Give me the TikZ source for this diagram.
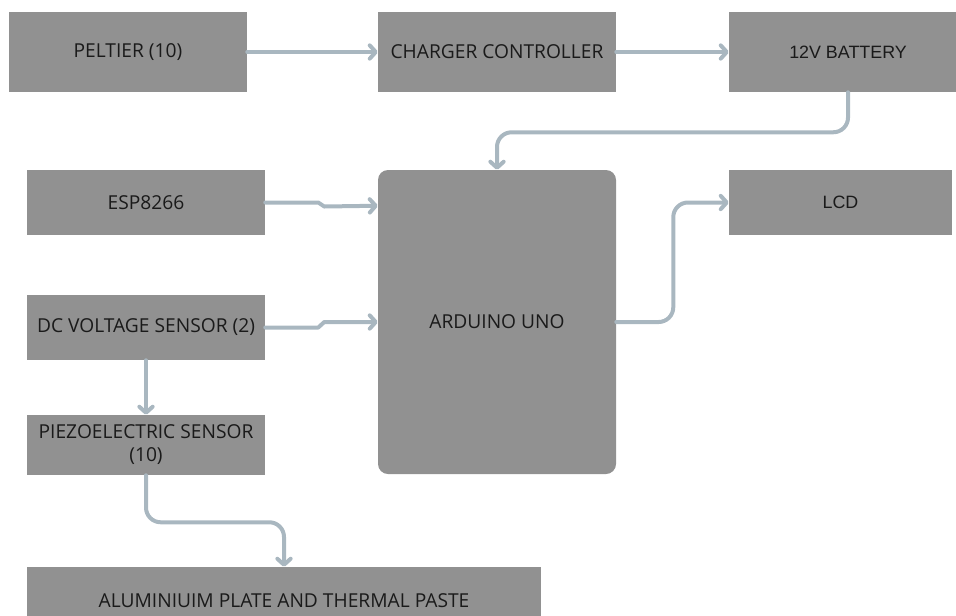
\documentclass[tikz,border=0pt]{standalone}
\usepackage{fontspec}
\setsansfont{Open Sans}
\newfontfamily\arialfont{Liberation Sans}
\usetikzlibrary{arrows.meta,calc}
\definecolor{boxgray}{HTML}{919191}
\definecolor{conncol}{HTML}{A9B7C0}
\definecolor{txtcol}{HTML}{1A1A1A}
\tikzset{
  blk/.style={fill=boxgray, draw=none, inner sep=0pt, text=txtcol, align=center,
    font=\sffamily\fontsize{14.4pt}{17.3pt}\selectfont},
  arialblk/.style={blk, font=\arialfont\fontsize{13.4pt}{16pt}\selectfont},
  conn/.style={draw=conncol, line width=3pt, line cap=round, line join=round,
    -{Straight Barb[length=4.5pt,width=10pt,line cap=round,line join=round]}},
}
\begin{document}
\begin{tikzpicture}[x=0.75pt,y=-0.75pt]
\useasboundingbox (0,0) rectangle (956,615);
% nodes
\node[blk, minimum width=178.5pt, minimum height=60pt] (pel) at (128,52) {PELTIER (10)};
\node[blk, minimum width=178.5pt, minimum height=60pt] (chg) at (497,52) {CHARGER CONTROLLER};
\node[arialblk, minimum width=178.5pt, minimum height=60pt] (bat) at (848,52) {12V BATTERY};
\node[blk, minimum width=178.5pt, minimum height=48.75pt] (esp) at (146,202.5) {ESP8266};
\node[blk, minimum width=178.5pt, minimum height=228pt, rounded corners=7.5pt] (ard) at (497,322) {ARDUINO UNO};
\node[arialblk, minimum width=167.25pt, minimum height=48.75pt] (lcd) at (840.5,202.5) {LCD};
\node[blk, minimum width=178.5pt, minimum height=48.75pt] (dcv) at (146,327.5) {DC VOLTAGE SENSOR (2)};
\node[blk, minimum width=178.5pt, minimum height=45pt] (pie) at (146,445) {PIEZOELECTRIC SENSOR\\(10)};
\node[blk, minimum width=385.5pt, minimum height=51pt] (alu) at (284,601) {ALUMINIUIM PLATE AND THERMAL PASTE};
% connectors
\draw[conn] (pel.east) -- (chg.west);
\draw[conn] (chg.east) -- (bat.west);
\draw[conn, rounded corners=11pt] (bat.south) -- ++(0,40) -| (ard.north);
\draw[conn] (esp.east) -- ++(53,0) -- ++(6,4) -- ($(ard.north west)+(0,36)$);
\draw[conn] (dcv.east) -- ++(53,0) -- ++(6,-5.5) -- (ard.west);
\draw[conn, rounded corners=11pt] (ard.east) -- ++(57,0) |- (lcd.west);
\draw[conn] (dcv.south) -- (pie.north);
\draw[conn, rounded corners=11pt] (pie.south) -- ++(0,47) -| (alu.north);
\end{tikzpicture}
\end{document}
